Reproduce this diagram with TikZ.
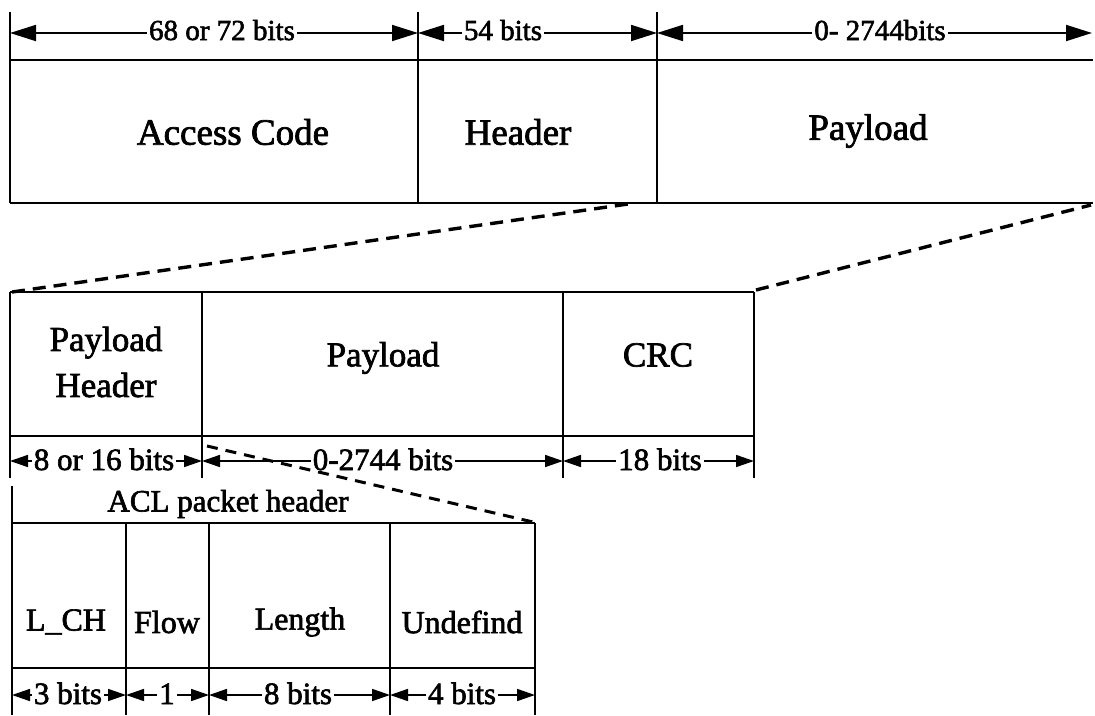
\documentclass[tikz,border=0pt]{standalone}
\usepackage{fontspec}
\setmainfont{Liberation Serif}[UprightFeatures={FakeBold=2}]
\usetikzlibrary{arrows.meta}
\begin{document}
\begin{tikzpicture}[x=1pt,y=-1pt,
  frame/.style={line width=2.4pt},
  dimbig/.style={line width=1.8pt,{Triangle[length=26pt,width=16pt]}-{Triangle[length=26pt,width=16pt]}},
  dimsmall/.style={line width=1.6pt,{Triangle[length=18pt,width=12pt]}-{Triangle[length=18pt,width=12pt]}},
  zoomline/.style={line width=3.4pt,dash pattern=on 13pt off 8pt},
  boxlabel/.style={font=\fontsize{37}{44}\selectfont,align=center,inner sep=0pt},
  cellLabel/.style={font=\fontsize{32}{34}\selectfont,inner sep=0pt},
  dimlabel/.style={font=\fontsize{29}{30}\selectfont,fill=white,inner xsep=2pt,inner ysep=1pt,anchor=base},
  dimlabelb/.style={dimlabel,font=\fontsize{31}{32}\selectfont}]
\useasboundingbox (0,0) rectangle (1095,715);
\fill[white] (0,0) rectangle (1095,715);
% ---------- zoom lines (drawn first, labels cover them) ----------
\coordinate (z0) at (12,292); \coordinate (z1) at (635,203);
\coordinate (z2) at (756,290); \coordinate (z3) at (1091,205);
\coordinate (z4) at (207,446); \coordinate (z5) at (533,522);
\draw[zoomline] (z0)--(z1);
\draw[zoomline] (z2)--(z3);
\draw[zoomline,line width=3pt,dash pattern=on 11pt off 8pt] (z4)--(z5);
% ---------- top packet ----------
\coordinate (T0) at (10,12);  \coordinate (B0) at (10,203);
\coordinate (T1) at (418,12); \coordinate (B1) at (418,203);
\coordinate (T2) at (657,12); \coordinate (B2) at (657,203);
\coordinate (L0) at (10,60);  \coordinate (R0) at (1093,60);
\coordinate (L1) at (10,203); \coordinate (R1) at (1093,203);
\draw[frame] (T0)--(B0) (T1)--(B1) (T2)--(B2) (L0)--(R0) (L1)--(R1);
\coordinate (a0) at (10,33); \coordinate (a1) at (418,33);
\coordinate (a2) at (657,33); \coordinate (a3) at (1092,33);
\draw[dimbig] (a0)--(a1);
\draw[dimbig] (a1)--(a2);
\draw[dimbig] (a2)--(a3);
\node[dimlabel] (d1) at (222,40) {68 or 72 bits};
\node[dimlabel] (d2) at (503,40) {54 bits};
\node[dimlabel] (d3) at (880,40) {0- 2744bits};
\node[boxlabel] (ac) at (233,132) {Access Code};
\node[boxlabel] (hd) at (518,132) {Header};
\node[boxlabel] (pl) at (868,131) {Payload};
% ---------- middle packet ----------
\coordinate (m0t) at (10,292);  \coordinate (m0b) at (10,478);
\coordinate (m1t) at (202,292); \coordinate (m1b) at (202,478);
\coordinate (m2t) at (563,292); \coordinate (m2b) at (563,478);
\coordinate (m3t) at (754,292); \coordinate (m3b) at (754,478);
\coordinate (mr) at (10,436); \coordinate (mrr) at (754,436);
\draw[frame] (m0t)--(m0b) (m1t)--(m1b) (m2t)--(m2b) (m3t)--(m3b) (m0t)--(m3t) (mr)--(mrr);
\coordinate (b0) at (10,461); \coordinate (b1) at (202,461);
\coordinate (b2) at (563,461); \coordinate (b3) at (754,461);
\draw[dimsmall] (b0)--(b1);
\draw[dimsmall] (b1)--(b2);
\draw[dimsmall] (b2)--(b3);
\node[dimlabelb] (e1) at (104,470) {8 or 16 bits};
\node[dimlabelb] (e2) at (383,470) {0-2744 bits};
\node[dimlabelb] (e3) at (660,470) {18 bits};
\node[boxlabel,font=\fontsize{35}{46}\selectfont] (ph) at (106,362) {Payload\\Header};
\node[boxlabel,font=\fontsize{35}{40}\selectfont] (pp) at (383,358) {Payload};
\node[boxlabel,font=\fontsize{35}{40}\selectfont] (crc) at (658,355) {CRC};
% ---------- ACL packet header ----------
\node[font=\fontsize{31}{32}\selectfont,inner sep=0pt] (acl) at (228,504) {ACL packet header};
\coordinate (c0t) at (12,486); \coordinate (c0b) at (12,715);
\coordinate (c1t) at (126,523); \coordinate (c1b) at (126,715);
\coordinate (c2t) at (209,523); \coordinate (c2b) at (209,715);
\coordinate (c3t) at (390,523); \coordinate (c3b) at (390,715);
\coordinate (c4t) at (535,523); \coordinate (c4b) at (535,715);
\coordinate (cl) at (12,523); \coordinate (cm) at (12,668); \coordinate (cmr) at (535,668);
\draw[frame] (c0t)--(c0b) (c1t)--(c1b) (c2t)--(c2b) (c3t)--(c3b) (c4t)--(c4b) (cl)--(c4t) (cm)--(cmr);
\coordinate (f0) at (12,695); \coordinate (f1) at (126,695); \coordinate (f2) at (209,695);
\coordinate (f3) at (390,695); \coordinate (f4) at (535,695);
\draw[dimsmall] (f0)--(f1);
\draw[dimsmall] (f1)--(f2);
\draw[dimsmall] (f2)--(f3);
\draw[dimsmall] (f3)--(f4);
\node[dimlabelb] (g1) at (68,704) {3 bits};
\node[dimlabelb] (g2) at (167,704) {1};
\node[dimlabelb] (g3) at (298,704) {8 bits};
\node[dimlabelb] (g4) at (462,704) {4 bits};
\node[cellLabel] (lch) at (66,622) {L\_CH};
\node[cellLabel] (flow) at (167,622) {Flow};
\node[cellLabel] (len) at (300,622) {Length};
\node[cellLabel] (und) at (462,622) {Undefind};
\end{tikzpicture}
\end{document}
